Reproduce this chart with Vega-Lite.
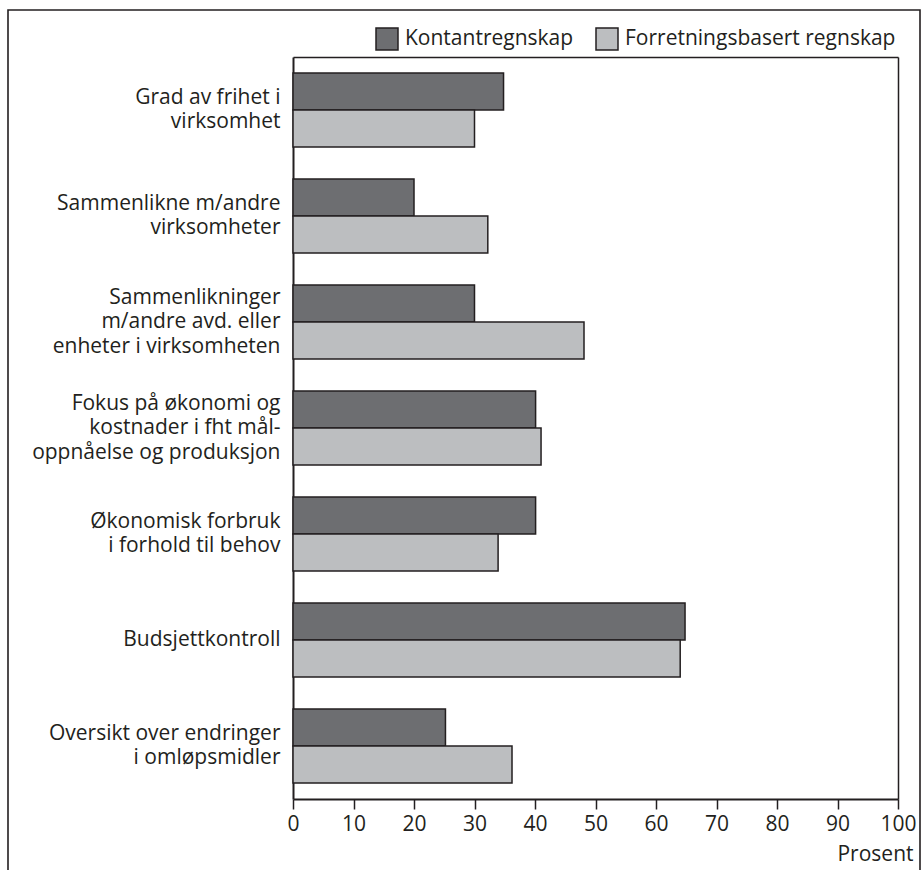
{
  "$schema": "https://vega.github.io/schema/vega-lite/v6.json",
  "autosize": "none",
  "width": 912,
  "height": 862,
  "padding": {"left": 8, "top": 10, "right": 4, "bottom": 0},
  "background": "white",
  "config": {
    "font": "Open Sans",
    "view": {"stroke": "#231f20", "strokeWidth": 1.6},
    "axis": {
      "grid": false,
      "labelFont": "Open Sans",
      "labelFontSize": 21,
      "labelColor": "#231f20",
      "domainColor": "#231f20",
      "tickColor": "#231f20",
      "titleFont": "Open Sans",
      "titleFontSize": 21,
      "titleFontWeight": "normal",
      "titleColor": "#231f20"
    },
    "legend": {
      "orient": "none",
      "legendX": 367,
      "legendY": 17,
      "direction": "horizontal",
      "symbolType": "square",
      "symbolSize": 484,
      "symbolStrokeColor": "#231f20",
      "symbolStrokeWidth": 1.5,
      "symbolOpacity": 1,
      "labelFont": "Open Sans",
      "labelFontSize": 21,
      "labelColor": "#231f20",
      "labelLimit": 400,
      "columnPadding": 19,
      "labelOffset": 6,
      "padding": 0
    }
  },
  "data": {
    "values": [
      {"kategori": "Grad av frihet i|virksomhet", "serie": "Kontantregnskap", "prosent": 34.8},
      {"kategori": "Grad av frihet i|virksomhet", "serie": "Forretningsbasert regnskap", "prosent": 30.0},
      {"kategori": "Sammenlikne m/andre|virksomheter", "serie": "Kontantregnskap", "prosent": 20.0},
      {"kategori": "Sammenlikne m/andre|virksomheter", "serie": "Forretningsbasert regnskap", "prosent": 32.2},
      {"kategori": "Sammenlikninger|m/andre avd. eller|enheter i virksomheten", "serie": "Kontantregnskap", "prosent": 30.0},
      {"kategori": "Sammenlikninger|m/andre avd. eller|enheter i virksomheten", "serie": "Forretningsbasert regnskap", "prosent": 48.1},
      {"kategori": "Fokus på økonomi og|kostnader i fht mål-|oppnåelse og produksjon", "serie": "Kontantregnskap", "prosent": 40.1},
      {"kategori": "Fokus på økonomi og|kostnader i fht mål-|oppnåelse og produksjon", "serie": "Forretningsbasert regnskap", "prosent": 41.0},
      {"kategori": "Økonomisk forbruk|i forhold til behov", "serie": "Kontantregnskap", "prosent": 40.1},
      {"kategori": "Økonomisk forbruk|i forhold til behov", "serie": "Forretningsbasert regnskap", "prosent": 33.9},
      {"kategori": "Budsjettkontroll", "serie": "Kontantregnskap", "prosent": 64.8},
      {"kategori": "Budsjettkontroll", "serie": "Forretningsbasert regnskap", "prosent": 64.0},
      {"kategori": "Oversikt over endringer|i omløpsmidler", "serie": "Kontantregnskap", "prosent": 25.2},
      {"kategori": "Oversikt over endringer|i omløpsmidler", "serie": "Forretningsbasert regnskap", "prosent": 36.2}
    ]
  },
  "layer": [
    {
      "transform": [{"filter": "datum.serie === 'Kontantregnskap'"}],
      "mark": {"type": "bar", "stroke": "#231f20", "strokeWidth": 1.5},
      "encoding": {
        "y": {
          "field": "kategori",
          "type": "nominal",
          "sort": null,
          "scale": {"range": [47, 789], "paddingInner": 0.3, "paddingOuter": 0.15},
          "axis": {
            "orient": "left",
            "offset": -285,
            "title": null,
            "ticks": false,
            "domainWidth": 2,
            "labelPadding": 13,
            "labelLimit": 400,
            "labelLineHeight": 24.5,
            "labelOffset": -12.25,
            "labelBaseline": {
              "condition": [
                {"test": "indexof(datum.value, '|') < 0", "value": "line-top"},
                {"test": "length(split(datum.value, '|')) === 3", "value": "line-bottom"}
              ],
              "value": "middle"
            },
            "labelExpr": "split(datum.value, '|')"
          }
        },
        "x": {
          "field": "prosent",
          "type": "quantitative",
          "scale": {"domain": [0, 100], "range": [285, 890], "nice": false},
          "axis": {
            "orient": "bottom",
            "offset": -73,
            "values": [0, 10, 20, 30, 40, 50, 60, 70, 80, 90, 100],
            "tickSize": 10,
            "tickWidth": 1.5,
            "domainWidth": 2,
            "labelPadding": 4,
            "labelFlush": false,
            "labelOverlap": false,
            "title": "Prosent",
            "titleX": 905,
            "titleY": 61,
            "titleAlign": "right",
            "titleBaseline": "alphabetic"
          }
        },
        "yOffset": {
          "field": "serie",
          "type": "nominal",
          "scale": {"domain": ["Kontantregnskap", "Forretningsbasert regnskap"]}
        },
        "color": {
          "field": "serie",
          "type": "nominal",
          "scale": {
            "domain": ["Kontantregnskap", "Forretningsbasert regnskap"],
            "range": ["#6d6e71", "#bcbec0"]
          },
          "legend": {"title": null}
        }
      }
    },
    {
      "transform": [{"filter": "datum.serie === 'Forretningsbasert regnskap'"}],
      "mark": {"type": "bar", "stroke": "#231f20", "strokeWidth": 1.5},
      "encoding": {
        "y": {
          "field": "kategori",
          "type": "nominal",
          "sort": null,
          "scale": {"range": [47, 789], "paddingInner": 0.3, "paddingOuter": 0.15},
          "axis": {
            "orient": "right",
            "offset": -22,
            "title": null,
            "ticks": false,
            "labels": false,
            "domainWidth": 1.5
          }
        },
        "x": {
          "field": "prosent",
          "type": "quantitative",
          "scale": {"domain": [0, 100], "range": [285, 890], "nice": false},
          "axis": {
            "orient": "top",
            "offset": -47,
            "title": null,
            "ticks": false,
            "labels": false,
            "domainWidth": 1.5
          }
        },
        "yOffset": {
          "field": "serie",
          "type": "nominal",
          "scale": {"domain": ["Kontantregnskap", "Forretningsbasert regnskap"]}
        },
        "color": {
          "field": "serie",
          "type": "nominal",
          "scale": {
            "domain": ["Kontantregnskap", "Forretningsbasert regnskap"],
            "range": ["#6d6e71", "#bcbec0"]
          },
          "legend": {"title": null}
        }
      }
    }
  ],
  "resolve": {"axis": {"x": "independent", "y": "independent"}}
}
